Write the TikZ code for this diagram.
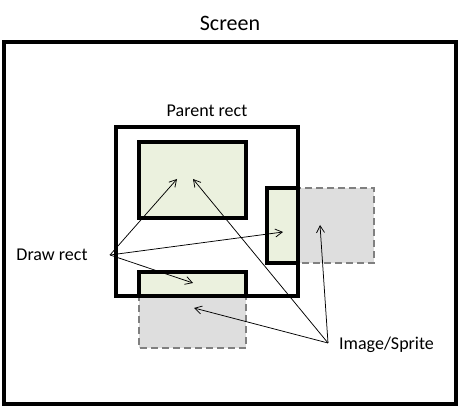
\documentclass[tikz,border=0pt]{standalone}
\usepackage{fontspec}
\setmainfont{Carlito}
\usetikzlibrary{arrows.meta}
\definecolor{drawgreen}{RGB}{235,241,222}
\definecolor{imggray}{RGB}{222,222,222}
\definecolor{dashgray}{RGB}{128,128,128}

\begin{document}
\begin{tikzpicture}[x=1pt,y=-1pt,
    frame/.style={draw=black,line width=3.1pt},
    drawrect/.style={frame,fill=drawgreen},
    imgrect/.style={draw=dashgray,fill=imggray,line width=2.3pt,dash pattern=on 7pt off 4pt},
    pointer/.style={-{Straight Barb[length=7pt,width=8pt]},line width=0.75pt}]
  \useasboundingbox (0,0) rectangle (461,411);
  % screen and parent
  \draw[frame] (4,42) rectangle (456,404);
  % image / sprite rects
  \draw[imgrect] (267,188) rectangle (374,263);
  \draw[imgrect] (139,272) rectangle (246,348);
  % draw rects
  \draw[drawrect] (139,142) rectangle (246,218);
  \draw[drawrect] (267,188) rectangle (298,263);
  \draw[drawrect] (139,272) rectangle (246,296);
  \draw[frame] (116,127) rectangle (298,296);
  % labels
  \begin{scope}[every node/.style={font=\fontsize{18}{20}\selectfont,inner sep=0pt}]
    \node (screen) at (230,23) {\fontsize{22}{24}\selectfont Screen};
    \node (parent) at (207,111) {Parent rect};
    \node (drawlbl) at (52,255) {Draw rect};
    \node (imglbl) [anchor=west] at (339,345) {Image/Sprite};
  \end{scope}
  % arrow ends
  \coordinate (dr) at (110,255);
  \coordinate (im) at (328,343);
  \coordinate (dtop) at (177,179);
  \coordinate (dright) at (283,232);
  \coordinate (dbot) at (193,283);
  \coordinate (itop) at (193,179);
  \coordinate (iright) at (320,225);
  \coordinate (ibot) at (194,308);
  \begin{scope}[every path/.style={pointer}]
    \path (dr) edge (dtop);
    \path (dr) edge (dright);
    \path (dr) edge (dbot);
    \path (im) edge (itop);
    \path (im) edge (iright);
    \path (im) edge (ibot);
  \end{scope}
\end{tikzpicture}
\end{document}
